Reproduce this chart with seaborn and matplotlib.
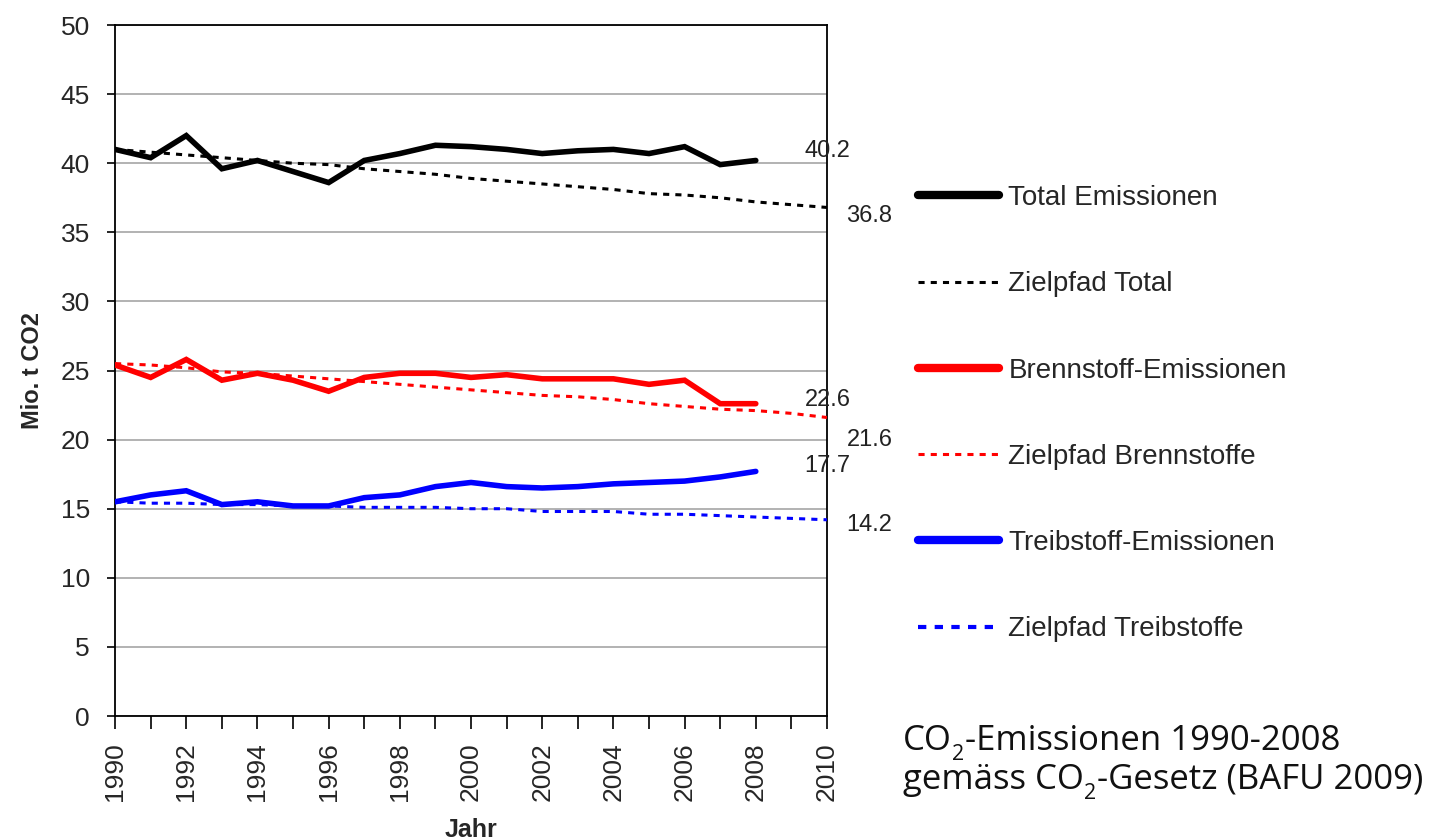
import pandas as pd
import matplotlib.pyplot as plt
import seaborn as sns
from matplotlib.lines import Line2D

# ================= DATEN =================
jahre_ist = list(range(1990, 2009))
jahre_ziel = list(range(1990, 2011))

total = [41.0, 40.4, 42.0, 39.6, 40.2, 39.4, 38.6, 40.2, 40.7, 41.3,
         41.2, 41.0, 40.7, 40.9, 41.0, 40.7, 41.2, 39.9, 40.2]
brenn = [25.4, 24.5, 25.8, 24.3, 24.8, 24.3, 23.5, 24.5, 24.8, 24.8,
         24.5, 24.7, 24.4, 24.4, 24.4, 24.0, 24.3, 22.6, 22.6]
treib = [15.5, 16.0, 16.3, 15.3, 15.5, 15.2, 15.2, 15.8, 16.0, 16.6,
         16.9, 16.6, 16.5, 16.6, 16.8, 16.9, 17.0, 17.3, 17.7]

ziel_total = [41.0, 40.8, 40.6, 40.4, 40.2, 40.0, 39.9, 39.6, 39.4, 39.2,
              38.9, 38.7, 38.5, 38.3, 38.1, 37.8, 37.7, 37.5, 37.2, 37.0, 36.8]
ziel_brenn = [25.5, 25.4, 25.2, 24.9, 24.8, 24.6, 24.4, 24.2, 24.0, 23.8,
              23.6, 23.4, 23.2, 23.1, 22.9, 22.6, 22.4, 22.2, 22.1, 21.9, 21.6]
ziel_treib = [15.5, 15.4, 15.4, 15.3, 15.3, 15.2, 15.2, 15.1, 15.1, 15.1,
              15.0, 15.0, 14.8, 14.8, 14.8, 14.6, 14.6, 14.5, 14.4, 14.3, 14.2]

namen = ['Total Emissionen', 'Zielpfad Total', 'Brennstoff-Emissionen',
         'Zielpfad Brennstoffe', 'Treibstoff-Emissionen', 'Zielpfad Treibstoffe']

# Quelle, in Stuecke zerlegt (Text, tiefgestellt?)
quelle_1 = [('CO', False), ('2', True), ('-Emissionen 1990-2008', False)]
quelle_2 = [('gemäss CO', False), ('2', True), ('-Gesetz (BAFU 2009)', False)]

# ================= FIGUR =================
sns.set_style("white")
plt.rcParams['font.family'] = ['Liberation Sans', 'DejaVu Sans']

W, H = 1433, 840
fig = plt.figure(figsize=(W / 100, H / 100), dpi=100)
ax = fig.add_axes([0.0803, 0.1476, 0.4968, 0.8226])

df_ist = pd.DataFrame({'Jahr': jahre_ist, 'total': total, 'brenn': brenn, 'treib': treib})
df_ziel = pd.DataFrame({'Jahr': jahre_ziel, 'total': ziel_total,
                        'brenn': ziel_brenn, 'treib': ziel_treib})

farben = {'total': 'black', 'brenn': '#ff0000', 'treib': '#0000ff'}
dots = (0, (2, 2))

for key in ['total', 'brenn', 'treib']:
    sns.lineplot(data=df_ziel, x='Jahr', y=key, color=farben[key], linewidth=2.2,
                 linestyle=dots, ax=ax, zorder=3)
    sns.lineplot(data=df_ist, x='Jahr', y=key, color=farben[key], linewidth=4,
                 ax=ax, zorder=4, solid_joinstyle='miter')

# Beschriftung Endwerte
label_off_ist = {'total': (35, 7), 'brenn': (35, 3), 'treib': (35, 4)}
label_off_ziel = {'total': (14, -6), 'brenn': (14, -16), 'treib': (14, -4)}
for key in ['total', 'brenn', 'treib']:
    ax.annotate(f"{df_ist[key].iloc[-1]:.1f}", xy=(df_ist['Jahr'].iloc[-1], df_ist[key].iloc[-1]),
                xytext=label_off_ist[key], textcoords='offset points',
                ha='left', va='center', fontsize=17, color='#222222')
    ax.annotate(f"{df_ziel[key].iloc[-1]:.1f}", xy=(df_ziel['Jahr'].iloc[-1], df_ziel[key].iloc[-1]),
                xytext=label_off_ziel[key], textcoords='offset points',
                ha='left', va='center', fontsize=17, color='#222222',
                annotation_clip=False)

# Achsen
ax.set_xlim(1990, 2010)
ax.set_ylim(0, 50)
ax.set_xticks(range(1990, 2011))
ax.set_xticklabels([str(j) if j % 2 == 0 else '' for j in range(1990, 2011)],
                   rotation=90, fontsize=19)
ax.set_yticks(range(0, 51, 5))
ax.set_yticklabels([str(v) for v in range(0, 51, 5)], fontsize=19)
ax.tick_params(axis='x', direction='out', length=9, width=1.2, pad=10, color='black',
               bottom=True)
ax.tick_params(axis='y', direction='out', length=6, width=1.2, pad=12, color='black',
               left=True)
ax.yaxis.grid(True, color='#a6a6a6', linewidth=1.2)
ax.set_axisbelow(True)
for s in ax.spines.values():
    s.set_color('black')
    s.set_linewidth(1.3)

ax.set_xlabel('Jahr', fontsize=18, fontweight='bold', labelpad=12)
ax.set_ylabel('Mio. t CO2', fontsize=17, fontweight='bold', labelpad=12)

# Legende
handles = [
    Line2D([], [], color='black', lw=6),
    Line2D([], [], color='black', lw=2.2, linestyle=dots),
    Line2D([], [], color='#ff0000', lw=6),
    Line2D([], [], color='#ff0000', lw=2.2, linestyle=dots),
    Line2D([], [], color='#0000ff', lw=6),
    Line2D([], [], color='#0000ff', lw=3, linestyle=dots),
]
fig.legend(handles, namen, loc='upper left', bbox_to_anchor=(0.633, 0.793),
           frameon=False, fontsize=20, handlelength=2.9, handletextpad=0.35,
           labelspacing=2.17, borderaxespad=0)


# Quelle mit tiefgestellter 2
def text_zeile(stuecke, x_px, base_px):
    fig.canvas.draw()
    renderer = fig.canvas.get_renderer()
    x = x_px
    for txt, tief in stuecke:
        size = 15.5 if tief else 25
        y = base_px + (10 if tief else 0)
        t = fig.text(x / W, 1 - y / H, txt, family='Open Sans', fontsize=size,
                     va='baseline', ha='left', color='#111111')
        x = t.get_window_extent(renderer).x1 + (1 if tief else 0)


text_zeile(quelle_1, 903, 750)
text_zeile(quelle_2, 903, 789)

plt.savefig('out.png', dpi=100)
